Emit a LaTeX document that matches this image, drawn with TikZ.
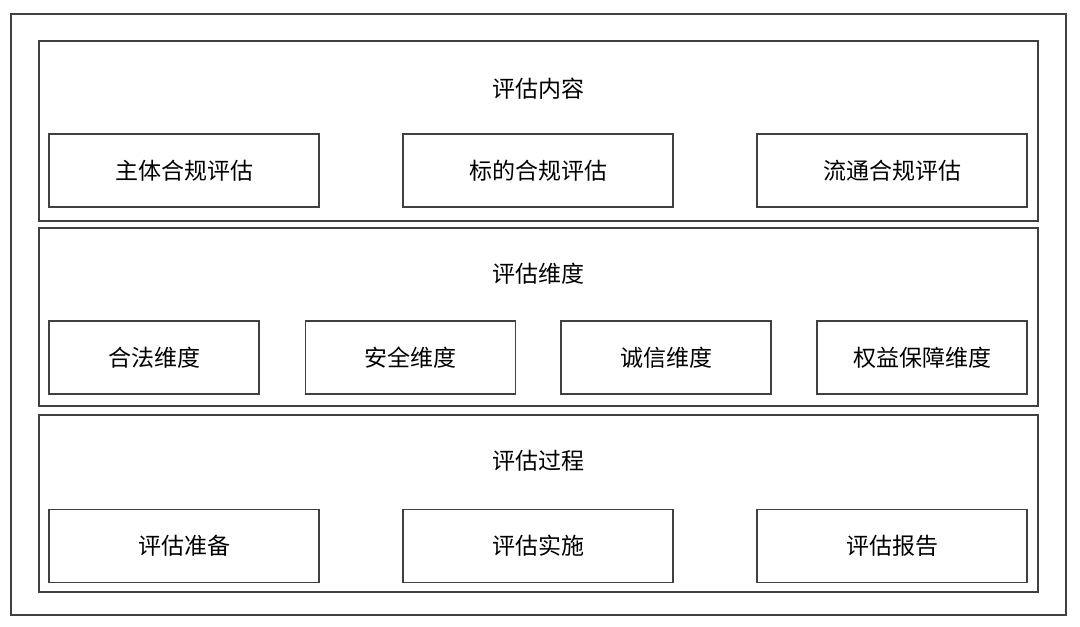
\documentclass[tikz,border=0pt]{standalone}
\usepackage{fontspec}
\setmainfont{Noto Sans CJK SC}
\begin{document}
\begin{tikzpicture}[x=1pt, y=-1pt,
	frame/.style={draw=black!75, line width=1.8pt},
	part/.style={frame, minimum width=999pt, inner sep=0pt},
	item/.style={frame, minimum height=73pt, inner sep=0pt, font=\fontsize{23}{27}\selectfont},
	heading/.style={font=\fontsize{23}{27}\selectfont}]
		% page size of the reference (pixels as pt)
		\useasboundingbox (0,0) rectangle (1080,627);
		
		% Outer frame
		\draw[frame] (11,14) rectangle (1066,615);
		
		% --- TOP: EVALUATION CONTENT ---
		\node[part, minimum height=180pt] (content) at (538.5,131) {};
		\node[heading] (contentTitle) at (538.5,89) {评估内容};
		\node[item, minimum width=270pt] (subject) at (184,170.5) {主体合规评估};
		\node[item, minimum width=270pt] (target) at (538,170.5) {标的合规评估};
		\node[item, minimum width=270pt] (circulation) at (892,170.5) {流通合规评估};
		
		% --- MIDDLE: EVALUATION DIMENSIONS ---
		\node[part, minimum height=178pt] (dimension) at (538.5,317) {};
		\node[heading] (dimensionTitle) at (538.5,274) {评估维度};
		\node[item, minimum width=210pt] (legal) at (154,357.5) {合法维度};
		\node[item, minimum width=210pt] (safety) at (410.5,357.5) {安全维度};
		\node[item, minimum width=210pt] (honesty) at (666,357.5) {诚信维度};
		\node[item, minimum width=210pt] (rights) at (922,357.5) {权益保障维度};
		
		% --- BOTTOM: EVALUATION PROCESS ---
		\node[part, minimum height=177pt] (process) at (538.5,503.5) {};
		\node[heading] (processTitle) at (538.5,461) {评估过程};
		\node[item, minimum width=270pt] (prepare) at (184,546) {评估准备};
		\node[item, minimum width=270pt] (execute) at (538,546) {评估实施};
		\node[item, minimum width=270pt] (report) at (892,546) {评估报告};
		
	\end{tikzpicture}
\end{document}
